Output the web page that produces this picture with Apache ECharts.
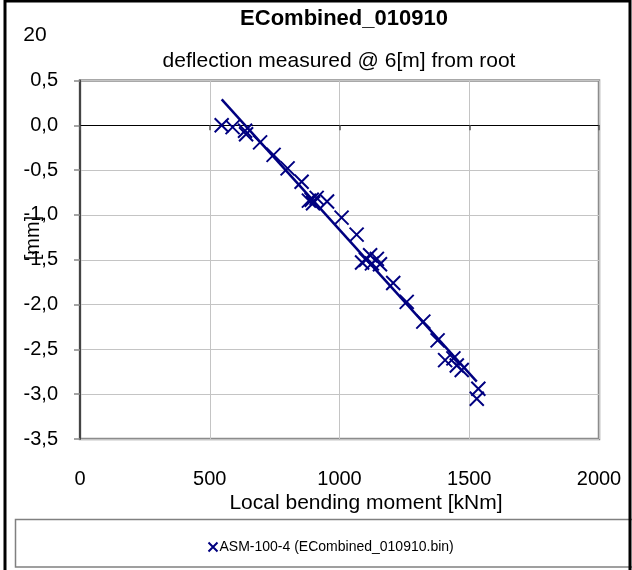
<!DOCTYPE html>
<html>
<head>
<meta charset="utf-8">
<script src="https://cdn.jsdelivr.net/npm/echarts@6/dist/echarts.min.js"></script>
<style>
  html, body { margin: 0; padding: 0; background: #fff; }
  #chart { width: 632px; height: 570px; }
</style>
</head>
<body>
<div id="chart"></div>
<script>
// Measured deflection vs. local bending moment
const momentKNm = [546, 588, 636, 640, 694, 746, 800, 854, 882, 893, 898, 912, 952, 1008, 1066,
  1087, 1102, 1118, 1125, 1144, 1156, 1207, 1259, 1323, 1378, 1407, 1439, 1452, 1471, 1535, 1529];
const deflectionMm = [0.00, -0.02, -0.06, -0.10, -0.19, -0.33, -0.48, -0.63, -0.84, -0.83, -0.87, -0.81, -0.85, -1.03, -1.22,
  -1.53, -1.50, -1.45, -1.54, -1.49, -1.55, -1.76, -1.97, -2.19, -2.40, -2.62, -2.60, -2.68, -2.73, -2.94, -3.05];

// Linear fit endpoints
const fitMoment = [546, 1529];
const fitDeflection = [0.29, -2.86];

const xTicks = [0, 500, 1000, 1500, 2000];
const yTicks = [0.5, 0.0, -0.5, -1.0, -1.5, -2.0, -2.5, -3.0, -3.5];

const seriesName = 'ASM-100-4 (ECombined_010910.bin)';
const NAVY = '#000080';
const FONT = '"Liberation Sans", Arial, sans-serif';
const CROSS = 'path://M0,0L10,10M10,0L0,10';

const chart = echarts.init(document.getElementById('chart'), null, { renderer: 'canvas' });

const pts = momentKNm.map((m, i) => [m, deflectionMm[i]]);
const fit = fitMoment.map((m, i) => [m, fitDeflection[i]]);

chart.setOption({
  animation: false,
  backgroundColor: '#fff',
  grid: {
    left: 80, top: 80.5, right: 33, bottom: 131,
    show: true, borderColor: '#8c8c8c', borderWidth: 2.5, backgroundColor: '#fff'
  },
  xAxis: [{
    type: 'value', min: xTicks[0], max: xTicks[xTicks.length - 1], interval: 500,
    axisLine: { show: false, onZero: false },
    axisTick: { show: false },
    axisLabel: { margin: 30, fontSize: 20, color: '#000', fontFamily: FONT, formatter: v => String(v) },
    splitLine: { show: true, lineStyle: { color: '#c4c4c4', width: 1 } }
  }, {
    // zero line with short ticks
    type: 'value', min: xTicks[0], max: xTicks[xTicks.length - 1], interval: 500,
    position: 'bottom',
    axisLine: { show: true, onZero: true, lineStyle: { color: '#000', width: 1.2 } },
    axisTick: { show: true, length: 5, lineStyle: { color: '#555', width: 1.5 } },
    axisLabel: { show: false },
    splitLine: { show: false }
  }],
  yAxis: {
    type: 'value', min: yTicks[yTicks.length - 1], max: yTicks[0], interval: 0.5,
    axisLine: { show: true, lineStyle: { color: '#444', width: 2 } },
    axisTick: { show: true, length: 6, lineStyle: { color: '#888', width: 1.5 } },
    axisLabel: {
      margin: 22, fontSize: 20, color: '#000', fontFamily: FONT,
      formatter: v => v.toFixed(1).replace('.', ',')
    },
    splitLine: { show: true, lineStyle: { color: '#c4c4c4', width: 1 } }
  },
  legend: {
    left: 201, top: 535,
    itemWidth: 9, itemHeight: 9, itemGap: 4,
    textStyle: { fontSize: 14, color: '#000', fontFamily: FONT, padding: [0, 0, 0, -3] },
    data: [{ name: seriesName, icon: CROSS, itemStyle: { color: 'none', borderColor: NAVY, borderWidth: 2 } }]
  },
  graphic: [
    { type: 'rect', shape: { x: 15.5, y: 519.5, width: 640, height: 47.5 },
      style: { fill: 'none', stroke: '#808080', lineWidth: 1.5 }, z: 1 },
    { type: 'rect', shape: { x: 5, y: 1, width: 625, height: 590 },
      style: { fill: 'none', stroke: '#000', lineWidth: 3 }, z: 10 },
    { type: 'text', x: 35, y: 35,
      style: { text: '20', fontSize: 21, fill: '#000', fontFamily: FONT, textAlign: 'center', textVerticalAlign: 'middle' } },
    { type: 'text', x: 344, y: 19,
      style: { text: 'ECombined_010910', fontSize: 22, fontWeight: 'bold', fill: '#000', fontFamily: FONT,
        textAlign: 'center', textVerticalAlign: 'middle' } },
    { type: 'text', x: 339, y: 61,
      style: { text: 'deflection measured @ 6[m] from root', fontSize: 21, fill: '#000', fontFamily: FONT,
        textAlign: 'center', textVerticalAlign: 'middle' } },
    { type: 'text', x: 366, y: 503,
      style: { text: 'Local bending moment [kNm]', fontSize: 21, fill: '#000', fontFamily: FONT,
        textAlign: 'center', textVerticalAlign: 'middle' } },
    { type: 'text', x: 33, y: 238, rotation: Math.PI / 2,
      style: { text: '[mm]', fontSize: 20, fill: '#000', fontFamily: FONT,
        textAlign: 'center', textVerticalAlign: 'middle' } }
  ],
  series: [{
    name: seriesName,
    type: 'scatter',
    xAxisIndex: 0,
    data: pts,
    symbol: CROSS,
    symbolSize: 14,
    itemStyle: { color: 'none', borderColor: NAVY, borderWidth: 2, opacity: 1 },
    z: 3
  }, {
    name: 'fit',
    type: 'line',
    xAxisIndex: 0,
    data: fit,
    showSymbol: false,
    symbol: 'none',
    lineStyle: { color: NAVY, width: 2.5 },
    z: 4
  }]
});
</script>
</body>
</html>
